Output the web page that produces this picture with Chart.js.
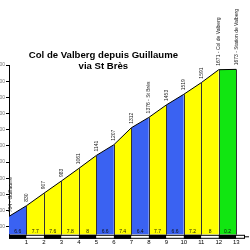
<!DOCTYPE html>
<html>
<head>
<meta charset="utf-8">
<script src="https://cdn.jsdelivr.net/npm/chart.js@4.4.1/dist/chart.umd.min.js"></script>
<style>
  html, body { margin: 0; padding: 0; background: #fff; }
  #wrap { width: 250px; height: 250px; }
</style>
</head>
<body>
<div id="wrap"><canvas id="c" width="250" height="250"></canvas></div>
<script>
// Profile data: km markers, altitude at each marker, gradient of each km.
const kms = [0, 1, 2, 3, 4, 5, 6, 7, 8, 9, 10, 11, 12, 13];
const elevations = [764, 830, 907, 983, 1061, 1141, 1207, 1312, 1376, 1453, 1519, 1591, 1671, 1673];
const gradients = [6.6, 7.7, 7.6, 7.8, 8, 6.6, 7.4, 6.4, 7.7, 6.6, 7.2, 8, 0.2];
const placeNames = ['Guillaume', '', '', '', '', '', '', '', 'St Brès', '', '', '', 'Col de Valberg', 'Station de Valberg'];
const titleLines = ['Col de Valberg depuis Guillaume', 'via St Brès'];

const FONT = '"Liberation Sans", Arial, sans-serif';

// colour class by gradient
const gradeColor = (g) => g < 5 ? '#11e611' : g < 7 ? '#3a62f2' : '#ffff00';

const datasets = gradients.map((g, i) => ({
  data: [{ x: kms[i], y: elevations[i] }, { x: kms[i + 1], y: elevations[i + 1] }],
  fill: 'start',
  backgroundColor: gradeColor(g),
  borderColor: '#000',
  borderWidth: 1,
  pointRadius: 0,
  tension: 0,
}));

// Decorations drawn through the scales: km dividers, grade labels, km strip, altitudes, title.
const profileDecor = {
  id: 'profileDecor',
  afterDatasetsDraw(chart) {
    const { ctx, chartArea: a, scales: { x, y } } = chart;
    ctx.save();

    // dividers between kms
    ctx.strokeStyle = '#333';
    ctx.lineWidth = 1;
    for (let i = 1; i < kms.length; i++) {
      const px = Math.round(x.getPixelForValue(kms[i])) + 0.5;
      ctx.beginPath();
      ctx.moveTo(px, a.bottom);
      ctx.lineTo(px, y.getPixelForValue(elevations[i]));
      ctx.stroke();
    }

    // grade labels near the foot of each km
    ctx.font = '5px ' + FONT;
    ctx.fillStyle = '#111';
    ctx.textAlign = 'center';
    ctx.textBaseline = 'middle';
    gradients.forEach((g, i) => {
      const cx = (x.getPixelForValue(kms[i]) + x.getPixelForValue(kms[i + 1])) / 2;
      ctx.fillText(String(g), cx, a.bottom - 3);
    });

    // alternating km strip
    const sy = a.bottom, sh = 4;
    for (let i = 0; i < kms.length; i++) {
      const x0 = x.getPixelForValue(kms[i]);
      const x1 = i < kms.length - 1 ? x.getPixelForValue(kms[i + 1]) : x.right;
      ctx.fillStyle = i % 2 === 0 ? '#000' : '#fff';
      ctx.fillRect(x0, sy, x1 - x0, sh);
    }
    ctx.strokeStyle = '#000';
    ctx.strokeRect(x.left + 0.5, sy + 0.5, x.right - x.left - 1, sh - 1);
    // small arrow at the end of the strip
    ctx.beginPath();
    ctx.moveTo(x.right - 1, sy + sh / 2);
    ctx.lineTo(x.right + 4, sy + sh / 2);
    ctx.stroke();

    // altitude labels, rotated
    ctx.font = '5px ' + FONT;
    ctx.fillStyle = '#222';
    ctx.textAlign = 'left';
    ctx.textBaseline = 'middle';
    elevations.forEach((e, i) => {
      const px = x.getPixelForValue(kms[i]) + (i === 0 ? 2 : 0);
      const py = y.getPixelForValue(e) - 4;
      const txt = placeNames[i] ? e + ' - ' + placeNames[i] : String(e);
      ctx.save();
      ctx.translate(px, py);
      ctx.rotate(-Math.PI / 2);
      ctx.fillText(txt, 0, 0);
      ctx.restore();
    });

    // title
    ctx.fillStyle = '#000';
    ctx.font = 'bold 9.6px ' + FONT;
    ctx.textAlign = 'center';
    ctx.textBaseline = 'alphabetic';
    const tx = a.left + (a.right - a.left) * 0.4;
    ctx.fillText(titleLines[0], tx, 57.5);
    ctx.fillText(titleLines[1], tx, 69);

    ctx.restore();
  },
};

new Chart(document.getElementById('c'), {
  type: 'line',
  data: { datasets },
  options: {
    responsive: false,
    animation: false,
    layout: { padding: { top: 65, right: 5, bottom: 0, left: 0 } },
    plugins: { legend: { display: false }, tooltip: { enabled: false }, title: { display: false } },
    scales: {
      x: {
        type: 'linear',
        min: 0,
        max: 13.5,
        afterBuildTicks: (s) => { s.ticks = kms.filter((k) => k >= 1).map((k) => ({ value: k })); },
        grid: { display: false, drawTicks: false },
        border: { display: false },
        ticks: {
          autoSkip: false,
          padding: 4,
          color: '#000',
          font: { size: 6, family: FONT },
          maxRotation: 0,
        },
      },
      y: {
        min: 650,
        max: 1700,
        afterBuildTicks: (s) => { s.ticks = s.ticks.filter((t) => t.value >= 700 && t.value % 100 === 0); },
        afterFit: (s) => { s.width = 9; },
        grid: { drawOnChartArea: false, drawTicks: true, tickLength: 3, color: '#000' },
        border: { display: true, color: '#000', width: 1 },
        ticks: { stepSize: 100, padding: 1, color: '#777', font: { size: 5, family: FONT } },
      },
    },
  },
  plugins: [profileDecor],
});
</script>
</body>
</html>
